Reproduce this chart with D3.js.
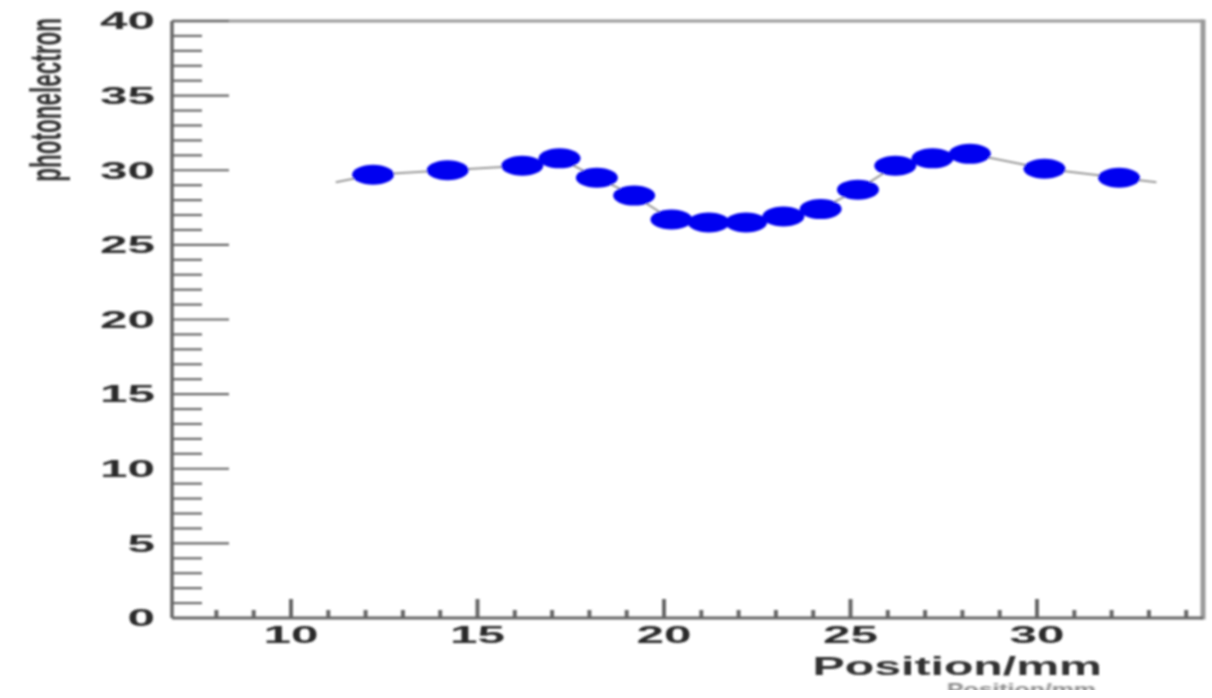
<!DOCTYPE html>
<html>
<head>
<meta charset="utf-8">
<script src="https://cdn.jsdelivr.net/npm/d3@7"></script>
<style>
  html, body { margin: 0; padding: 0; background: #fff; }
  svg { display: block; }
  text { font-family: "Liberation Sans", Arial, sans-serif; }
</style>
</head>
<body>
<svg id="chart" width="1212" height="698"></svg>
<script>
// ---- data ----
const positions = [12.2, 14.2, 16.2, 17.2, 18.2, 19.2, 20.2, 21.2, 22.2, 23.2, 24.2, 25.2, 26.2, 27.2, 28.2, 30.2, 32.2];
const photoelectrons = [29.7, 30.0, 30.3, 30.8, 29.5, 28.3, 26.7, 26.5, 26.5, 26.9, 27.4, 28.7, 30.3, 30.8, 31.1, 30.1, 29.5];
const lineStartX = 11.2, lineStartY = 29.2;
const lineEndX = 33.2, lineEndY = 29.2;
const xMajorTicks = [10, 15, 20, 25, 30];
const xMinorTicks = d3.range(8, 35, 1);
const yMajorTicks = [0, 5, 10, 15, 20, 25, 30, 35, 40];
const yMinorTicks = d3.range(0, 41, 1);
const xTitle = "Position/mm";
const yTitle = "photonelectron";

// ---- layout ----
const svg = d3.select("#chart");
const pL = 172, pR = 1203, pT = 21, pB = 618;
const x = d3.scaleLinear().domain([6.81, 34.45]).range([pL, pR]);
const y = d3.scaleLinear().domain([0, 40]).range([pB, pT]);
const SX = 2.15; // horizontal stretch of the picture

const defs = svg.append("defs");
defs.append("filter").attr("id", "blur").attr("x", "-5%").attr("y", "-5%").attr("width", "110%").attr("height", "110%")
  .append("feGaussianBlur").attr("stdDeviation", 0.8);
defs.append("filter").attr("id", "blur2").attr("x", "-5%").attr("y", "-50%").attr("width", "110%").attr("height", "200%")
  .append("feGaussianBlur").attr("stdDeviation", 1.2);
defs.append("clipPath").attr("id", "ghostclip").append("rect")
  .attr("x", 0).attr("y", 0).attr("width", 1212).attr("height", 690);

const g = svg.append("g").attr("filter", "url(#blur)");

// frame (top & right)
g.append("line").attr("x1", pL).attr("x2", pR).attr("y1", pT).attr("y2", pT)
  .attr("stroke", "#999").attr("stroke-width", 3);
g.append("line").attr("x1", pR).attr("x2", pR).attr("y1", pT - 1.5).attr("y2", pB + 1.5)
  .attr("stroke", "#999").attr("stroke-width", 5);

// y-axis
g.append("line").attr("x1", pL).attr("x2", pL).attr("y1", pT).attr("y2", pB)
  .attr("stroke", "#666").attr("stroke-width", 3.5);
g.selectAll(".yminor").data(yMinorTicks).join("line")
  .attr("x1", pL).attr("x2", d => pL + (yMajorTicks.includes(d) ? 57 : 30))
  .attr("y1", d => y(d)).attr("y2", d => y(d))
  .attr("stroke", "#666").attr("stroke-width", 2.2);
g.selectAll(".ylab").data(yMajorTicks).join("text")
  .attr("transform", d => `translate(155,${y(d)}) scale(${SX},1)`)
  .attr("text-anchor", "end").attr("dy", "0.36em")
  .attr("font-size", 23).attr("font-weight", "bold").attr("fill", "#2a2a2a")
  .text(d => d);

// x-axis
g.append("line").attr("x1", pL).attr("x2", pR).attr("y1", pB).attr("y2", pB)
  .attr("stroke", "#666").attr("stroke-width", 3);
g.selectAll(".xminor").data(xMinorTicks).join("line")
  .attr("x1", d => x(d)).attr("x2", d => x(d))
  .attr("y1", pB).attr("y2", d => pB - (xMajorTicks.includes(d) ? 19 : 8))
  .attr("stroke", "#666").attr("stroke-width", 4);
g.selectAll(".xlab").data(xMajorTicks).join("text")
  .attr("transform", d => `translate(${x(d)},643) scale(${SX},1)`)
  .attr("text-anchor", "middle")
  .attr("font-size", 23).attr("font-weight", "bold").attr("fill", "#2a2a2a")
  .text(d => d);

// titles
g.append("text")
  .attr("transform", `translate(1102,675) scale(1.93,1)`)
  .attr("text-anchor", "end").attr("font-size", 25).attr("font-weight", "bold").attr("fill", "#333")
  .text(xTitle);
g.append("text")
  .attr("transform", `translate(61,18) scale(2.0,1) rotate(-90)`)
  .attr("text-anchor", "end").attr("font-size", 22.5).attr("font-weight", "bold").attr("fill", "#333")
  .text(yTitle);

// ghost, clipped title remnant at the bottom
svg.append("g").attr("clip-path", "url(#ghostclip)")
  .append("text")
  .attr("transform", `translate(947,695) scale(1.55,1)`)
  .attr("font-size", 16).attr("font-weight", "bold").attr("fill", "#888").attr("filter", "url(#blur2)")
  .text(xTitle);

// line
const linePts = [[lineStartX, lineStartY]]
  .concat(positions.map((p, i) => [p, photoelectrons[i]]))
  .concat([[lineEndX, lineEndY]]);
g.append("path")
  .datum(linePts)
  .attr("d", d3.line().x(d => x(d[0])).y(d => y(d[1])))
  .attr("fill", "none").attr("stroke", "#999").attr("stroke-width", 2);

// markers
g.selectAll(".pt").data(positions).join("ellipse")
  .attr("cx", d => x(d)).attr("cy", (d, i) => y(photoelectrons[i]))
  .attr("rx", 21).attr("ry", 10)
  .attr("fill", "#0000f0");
</script>
</body>
</html>
